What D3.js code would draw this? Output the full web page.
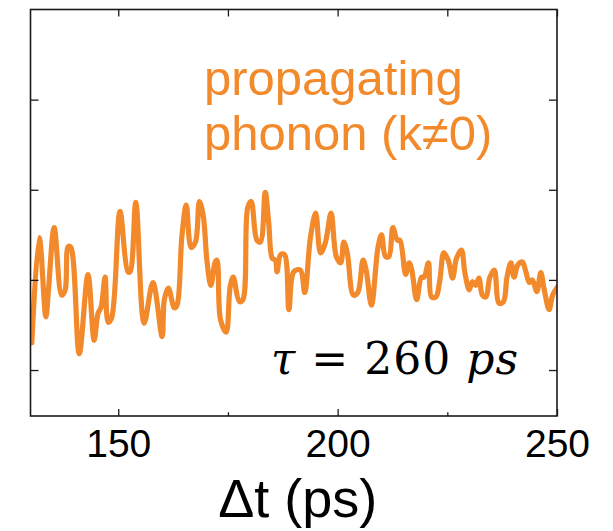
<!DOCTYPE html>
<html>
<head>
<meta charset="utf-8">
<script src="https://cdn.jsdelivr.net/npm/d3@7/dist/d3.min.js"></script>
<style>
  html, body { margin: 0; padding: 0; background: #fff; }
  svg { display: block; }
</style>
</head>
<body>
<svg id="chart" width="613" height="531"></svg>
<script>
// Delay time (ps) of each sample of the oscillating trace
const delayPs = [
  130.3, 132.0, 133.5, 134.1, 135.4, 137.1, 137.9, 138.6, 139.2, 141.1,
  143.1, 144.5, 145.4, 146.1, 147.0, 147.7, 148.5, 150.4, 152.2, 152.7,
  154.0, 155.9, 157.9, 160.0, 160.5, 161.4, 162.8, 163.4, 164.5, 165.5,
  166.6, 167.6, 168.5, 169.4, 170.2, 171.1, 172.1, 172.5, 173.3, 174.6,
  175.5, 176.2, 177.6, 178.4, 179.5, 180.3, 181.6, 182.4, 183.5, 184.3,
  185.1, 185.8, 186.2, 187.0, 187.9, 188.9, 190.0, 191.5, 192.5, 193.8,
  195.0, 196.1, 197.2, 198.5, 199.7, 200.7, 201.4, 202.2, 203.6, 204.6,
  205.8, 206.5, 207.7, 209.2, 210.0, 210.9, 211.7, 212.6, 213.6, 214.2,
  215.5, 216.3, 216.9, 218.0, 219.1, 219.7, 220.7, 221.4, 222.4, 223.3,
  224.2, 225.2, 226.2, 227.1, 228.2, 229.0, 230.0, 230.7, 231.5, 232.2,
  233.0, 233.8, 234.7, 235.7, 236.8, 237.8, 238.6, 239.5, 240.2, 241.1,
  242.1, 242.9, 243.7, 244.4, 245.4, 246.3, 247.1, 248.2, 249.0, 250.1
];

// Oscillation amplitude of the propagating phonon (arb. units)
const signal = [
  -0.70, 0.47, -0.41, -0.11, 0.58, -0.17, -0.11, 0.37, 0.36, -0.82,
   0.06, -0.67, -0.37, -0.30, 0.03, -0.47, -0.42, 0.76, 0.09, 0.09,
   0.86, -0.48, -0.03, -0.63, -0.22, -0.09, -0.31, -0.28, 0.48, 0.83,
   0.36, 0.42, 0.87, 0.70, 0.22, -0.06, 0.20, 0.22, -0.44, -0.58,
  -0.08, 0.03, -0.24, -0.22, 0.80, 0.87, 0.44, 0.42, 0.97, 0.63,
   0.24, 0.22, 0.09, 0.28, 0.28, -0.33, 0.09, 0.11, -0.14, 0.47,
   0.74, 0.30, 0.41, 0.74, 0.26, 0.19, 0.42, 0.30, -0.17, -0.14,
   0.22, 0.11, -0.28, 0.36, 0.50, 0.26, 0.26, 0.58, 0.44, 0.44,
   0.06, 0.19, 0.11, -0.22, 0.03, 0.03, 0.19, -0.19, -0.19, 0.00,
   0.30, 0.22, 0.02, 0.24, 0.33, 0.08, -0.11, -0.02, -0.06, 0.02,
  -0.17, -0.19, 0.03, 0.11, -0.26, -0.24, 0.03, 0.19, 0.03, 0.17,
   0.20, 0.09, -0.03, 0.00, -0.13, 0.08, -0.11, -0.33, -0.17, -0.08
];

// Axis ticks
const xMajorTicks = [150, 200, 250];
const xMinorTicks = [175, 225];
const xTickLabels = ["150", "200", "250"];
const yTicks = [-1, 0, 1, 2];

const xDomain = [130, 250];
const yDomain = [-1.51, 3.0];

const margin = { left: 30.5, top: 9.5, right: 56, bottom: 115 };
const W = 613, H = 531;
const plotW = W - margin.left - margin.right;
const plotH = H - margin.top - margin.bottom;

const orange = "#F28A2C";
const ink = "#1a1a1a";

const svg = d3.select("#chart");
const g = svg.append("g").attr("transform", `translate(${margin.left},${margin.top})`);

const x = d3.scaleLinear().domain(xDomain).range([0, plotW]);
const y = d3.scaleLinear().domain(yDomain).range([plotH, 0]);

const data = delayPs.map((t, i) => ({ t, v: signal[i] }));

// Trace
const clipId = "plot-clip";
g.append("clipPath").attr("id", clipId)
  .append("rect").attr("x", 0).attr("y", 0).attr("width", plotW).attr("height", plotH);

g.append("path")
  .datum(data)
  .attr("clip-path", `url(#${clipId})`)
  .attr("fill", "none")
  .attr("stroke", orange)
  .attr("stroke-width", 5.2)
  .attr("stroke-linejoin", "round")
  .attr("stroke-linecap", "round")
  .attr("d", d3.line().curve(d3.curveCatmullRom.alpha(0.5)).x(d => x(d.t)).y(d => y(d.v)));

// Bottom axis: inward ticks, labels below
const xAxisBottom = g.append("g").attr("transform", `translate(0,${plotH})`);
xAxisBottom.call(d3.axisBottom(x).tickValues(xMajorTicks).tickSizeInner(-7).tickSizeOuter(0)
  .tickFormat((d, i) => xTickLabels[i]));
xAxisBottom.append("g").call(d3.axisBottom(x).tickValues(xMinorTicks).tickSizeInner(-3.8).tickSizeOuter(0).tickFormat(""));
xAxisBottom.selectAll(".domain").remove();
xAxisBottom.selectAll("line").attr("stroke", ink).attr("stroke-width", 1.3);
xAxisBottom.selectAll("text")
  .attr("y", 41)
  .attr("dy", 0)
  .attr("fill", "#000")
  .style("font-family", "'Liberation Sans', Arial, sans-serif")
  .style("font-size", "39px");

// Top axis: inward ticks
const xAxisTop = g.append("g");
xAxisTop.call(d3.axisTop(x).tickValues(xMajorTicks.concat(xMinorTicks)).tickSizeInner(-7).tickSizeOuter(0).tickFormat(""));
xAxisTop.selectAll(".domain").remove();
xAxisTop.selectAll("line").attr("stroke", ink).attr("stroke-width", 1.3);

// Left and right axes: inward ticks, no labels
const yAxisLeft = g.append("g");
yAxisLeft.call(d3.axisLeft(y).tickValues(yTicks).tickSizeInner(-8).tickSizeOuter(0).tickFormat(""));
yAxisLeft.selectAll(".domain").remove();
yAxisLeft.selectAll("line").attr("stroke", ink).attr("stroke-width", 1.3);

const yAxisRight = g.append("g").attr("transform", `translate(${plotW},0)`);
yAxisRight.call(d3.axisRight(y).tickValues(yTicks).tickSizeInner(-8).tickSizeOuter(0).tickFormat(""));
yAxisRight.selectAll(".domain").remove();
yAxisRight.selectAll("line").attr("stroke", ink).attr("stroke-width", 1.3);

// Frame
g.append("rect")
  .attr("x", 0).attr("y", 0).attr("width", plotW).attr("height", plotH)
  .attr("fill", "none").attr("stroke", ink).attr("stroke-width", 1.6);

// Annotation
const note = svg.append("text")
  .attr("fill", orange)
  .style("font-family", "'Liberation Sans', Arial, sans-serif")
  .style("font-size", "49px");
note.append("tspan").attr("x", 204).attr("y", 95).text("propagating");
note.append("tspan").attr("x", 204).attr("y", 150).text("phonon (k≠0)");

// Decay time
const tau = svg.append("text")
  .attr("x", 271).attr("y", 374)
  .attr("fill", "#000")
  .attr("textLength", 247)
  .attr("lengthAdjust", "spacing")
  .style("font-family", "'DejaVu Serif', 'Liberation Serif', serif")
  .style("font-size", "44px");
tau.append("tspan").style("font-style", "italic").text("τ");
tau.append("tspan").text(" = 260 ");
tau.append("tspan").style("font-style", "italic").text("ps");

// X axis title
svg.append("text")
  .attr("x", margin.left + plotW / 2 + 4)
  .attr("y", 517)
  .attr("text-anchor", "middle")
  .attr("fill", "#000")
  .style("font-family", "'Liberation Sans', Arial, sans-serif")
  .style("font-size", "54px")
  .text("Δt (ps)");
</script>
</body>
</html>
